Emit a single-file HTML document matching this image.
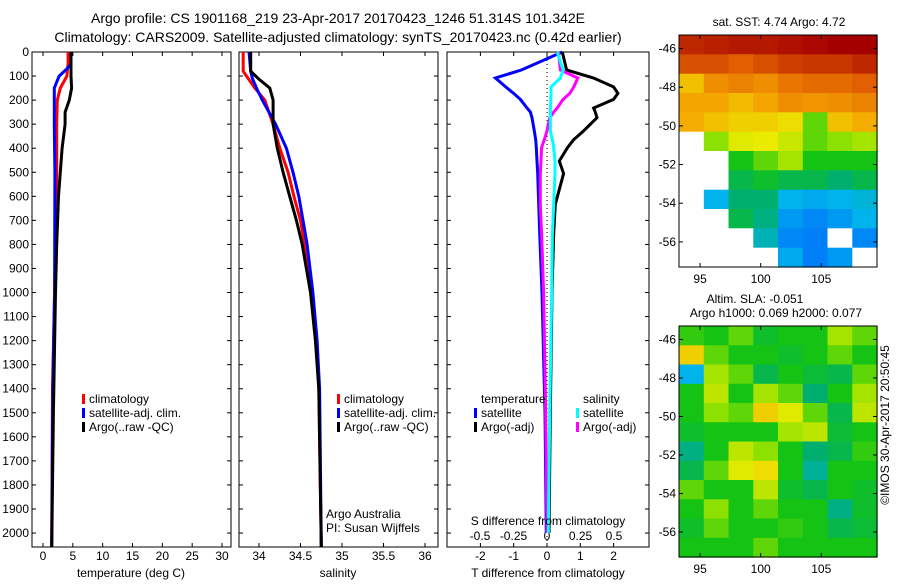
<!DOCTYPE html>
<html><head><meta charset="utf-8"><style>
body{margin:0;background:#fff;width:900px;height:580px;overflow:hidden}
svg text{font-family:"Liberation Sans",sans-serif;fill:#000}
</style></head><body>
<svg id="fig" width="900" height="580" xmlns="http://www.w3.org/2000/svg">
<text x="338" y="23" font-size="14" text-anchor="middle">Argo profile: CS 1901168_219 23-Apr-2017 20170423_1246 51.314S 101.342E</text>
<text x="338" y="42" font-size="14" text-anchor="middle">Climatology: CARS2009. Satellite-adjusted climatology: synTS_20170423.nc (0.42d earlier)</text>
<g id="g"></g>
</svg>
<script>
// ---- profile data (depth in m) ----
const tDepth=[0,50,70,100,150,200,300,500,1000,1400,2060];
const tClim=[4.2,4.2,4.1,4.0,2.9,2.4,2.3,2.3,1.95,1.6,1.45];
const tSat=[4.7,4.7,4.0,2.7,1.9,1.9,1.9,2.0,1.95,1.65,1.45];
const aDepth=[0,100,150,200,250,300,400,500,600,800,1000,1500,2060];
const tArgo=[4.7,4.7,4.8,4.4,3.7,3.7,3.2,2.9,2.6,2.3,2.1,1.75,1.45];
const sDepth=[0,80,110,150,200,300,400,500,600,700,800,1000,1200,1400,2060];
const sClim=[33.81,33.81,33.87,33.95,34.07,34.17,34.25,34.35,34.42,34.5,34.55,34.64,34.69,34.72,34.75];
const sSat=[33.88,33.9,33.92,33.97,34.04,34.2,34.33,34.41,34.48,34.53,34.58,34.65,34.7,34.73,34.75];
const sArgo=[33.9,33.9,33.99,34.13,34.17,34.17,34.22,34.29,34.37,34.45,34.52,34.62,34.68,34.72,34.75];
const dDepth=[0,75,108,145,172,197,233,250,273,328,365,397,453,505,633,755,1000,1500,2000];
const dTSat=[0.46,-0.77,-1.55,-1.24,-1.0,-0.8,-0.6,-0.5,-0.45,-0.38,-0.34,-0.32,-0.3,-0.28,-0.25,-0.22,-0.15,-0.06,-0.02];
const dTArgo=[0.46,0.59,1.4,2.0,2.13,2.0,1.4,1.45,1.5,1.1,0.8,0.62,0.37,0.5,0.25,0.2,0.15,0.1,0.06];
const dSArgo=[0.085,0.1,0.23,0.2,0.17,0.12,0.076,0.05,0.02,0,-0.02,-0.04,-0.045,-0.05,-0.05,-0.04,-0.025,-0.01,0];
const dSSat=[0.076,0.12,0.1,0.03,0.03,0.028,0.025,0.025,0.025,0.025,0.04,0.05,0.06,0.06,0.05,0.04,0.035,0.02,0.01];
// ---- axis ticks ----
const depthTicks=[0,100,200,300,400,500,600,700,800,900,1000,1100,1200,1300,1400,1500,1600,1700,1800,1900,2000];
const tTicks=[0,5,10,15,20,25,30];
const sTicks=[34,34.5,35,35.5,36];
const dTTicks=[-2,-1,0,1,2];
const dSTicks=[-0.5,-0.25,0,0.25,0.5];
// ---- map grids (colour index 0..1, -1 = no data) ----
const sstGrid=[
[0.95,0.96,0.97,0.97,0.98,0.99,1,1],
[0.9,0.9,0.88,0.9,0.92,0.93,0.93,0.95],
[0.72,0.8,0.82,0.8,0.84,0.86,0.86,0.88],
[0.76,0.76,0.73,0.76,0.8,0.79,0.8,0.82],
[0.75,0.72,0.7,0.7,0.68,0.55,0.72,0.75],
[-1,0.58,0.65,0.66,0.63,0.55,0.58,0.6],
[-1,-1,0.5,0.55,0.6,0.5,0.5,0.5],
[-1,-1,0.45,0.48,0.45,0.45,0.42,0.45],
[-1,0.3,0.42,0.42,0.3,0.28,0.3,0.32],
[-1,-1,0.45,0.4,0.25,0.22,0.25,0.3],
[-1,-1,-1,0.35,0.22,0.2,-1,0.22],
[-1,-1,-1,-1,0.28,0.2,0.25,-1]];
const slaGrid=[
[0.52,0.5,0.55,0.48,0.5,0.5,0.6,0.55],
[0.7,0.55,0.5,0.5,0.48,0.5,0.55,0.5],
[0.3,0.6,0.55,0.45,0.5,0.47,0.45,0.55],
[0.5,0.62,0.5,0.6,0.55,0.42,0.5,0.6],
[0.5,0.58,0.55,0.7,0.65,0.55,0.45,0.62],
[0.48,0.5,0.5,0.5,0.6,0.62,0.47,0.5],
[0.4,0.5,0.62,0.58,0.5,0.42,0.45,0.52],
[0.45,0.55,0.65,0.68,0.5,0.38,0.5,0.5],
[0.55,0.5,0.5,0.62,0.48,0.45,0.5,0.48],
[0.5,0.58,0.5,0.55,0.5,0.5,0.4,0.48],
[0.48,0.55,0.5,0.5,0.52,0.5,0.45,0.47],
[0.5,0.5,0.5,0.55,0.5,0.5,0.5,0.5]];
const mapLons=[95,100,105];
const mapLats=[-46,-48,-50,-52,-54,-56];

const NS="http://www.w3.org/2000/svg";
const G=document.getElementById('g');
function el(tag,attrs,parent,txt){const e=document.createElementNS(NS,tag);for(const k in attrs)e.setAttribute(k,attrs[k]);if(txt!==undefined)e.textContent=txt;(parent||G).appendChild(e);return e;}
const TOP=52,BOT=547;
const yD=d=>TOP+(d/2058)*(BOT-TOP);
function lin(d0,d1,r0,r1){return v=>r0+(v-d0)/(d1-d0)*(r1-r0);}
const xT=lin(0,30,43,222);
const xS=lin(34,36,259,425);
const xDT=v=>547+v*33.3;
const xDS=v=>547+v*134;

function frame(name,x0,x1){
  const r=el('rect',{x:x0,y:TOP,width:x1-x0,height:BOT-TOP,fill:'#fff',stroke:'#000','stroke-width':1});
  
  
  depthTicks.forEach(d=>{const y=yD(d);el('line',{x1:x0,x2:x0+4,y1:y,y2:y,stroke:'#000'});el('line',{x1:x1-4,x2:x1,y1:y,y2:y,stroke:'#000'});});
}
function xticks(ticks,f,x0,x1,labels,ly){
  ticks.forEach((t,i)=>{const x=f(t);el('line',{x1:x,x2:x,y1:BOT-4,y2:BOT,stroke:'#000'});el('line',{x1:x,x2:x,y1:TOP,y2:TOP+4,stroke:'#000'});
    const tx=el('text',{x:x,y:ly,'font-size':12,'text-anchor':'middle'},G,labels?labels[i]:String(t));
    
    });
}
function line(name,depths,vals,fx,color,w){
  const pts=depths.map((d,i)=>fx(vals[i]).toFixed(1)+','+yD(d).toFixed(1)).join(' ');
  const p=el('polyline',{points:pts,fill:'none',stroke:color,'stroke-width':w||3});
  
  
}
function legend(x,y,color,label){
  el('rect',{x:x,y:y-9,width:3,height:10,fill:color});
  const t=el('text',{x:x+7,y:y,'font-size':12},G,label);
  
  
}
// panel 1
frame('temperature-panel',32,231);
depthTicks.forEach(d=>{const t=el('text',{x:29,y:yD(d)+4,'font-size':12,'text-anchor':'end'},G,String(d));});
xticks(tTicks,xT,32,231,null,560);
line('temp-climatology-line',tDepth,tClim,xT,'#f00');
line('temp-satellite-line',tDepth,tSat,xT,'#00f');
line('temp-argo-line',aDepth,tArgo,xT,'#000');
legend(82,403,'#f00','climatology');legend(82,417,'#00f','satellite-adj. clim.');legend(82,431,'#000','Argo(..raw -QC)');
el('text',{x:131,y:577,'font-size':12,'text-anchor':'middle',},G,'temperature (deg C)');
// panel 2
frame('salinity-panel',239,438);
xticks(sTicks,xS,239,438,null,560);
line('sal-climatology-line',sDepth,sClim,xS,'#f00');
line('sal-satellite-line',sDepth,sSat,xS,'#00f');
line('sal-argo-line',sDepth,sArgo,xS,'#000');
legend(337,403,'#f00','climatology');legend(337,417,'#00f','satellite-adj. clim.');legend(337,431,'#000','Argo(..raw -QC)');
el('text',{x:326,y:518,'font-size':12,},G,'Argo Australia');
el('text',{x:326,y:532,'font-size':12,},G,'PI: Susan Wijffels');
el('text',{x:338,y:577,'font-size':12,'text-anchor':'middle',},G,'salinity');
// panel 3
frame('difference-panel',447,649);
el('line',{x1:547,x2:547,y1:TOP,y2:BOT,stroke:'#000','stroke-dasharray':'1,3',});
xticks(dTTicks,xDT,447,649,null,560);
dSTicks.forEach(t=>{const tx=el('text',{x:xDS(t),y:540,'font-size':12,'text-anchor':'middle'},G,String(t));});
line('diff-temp-satellite-line',dDepth,dTSat,xDT,'#00f');
line('diff-temp-argo-line',dDepth,dTArgo,xDT,'#000');
line('diff-sal-argo-line',dDepth,dSArgo,xDS,'#f0f');
line('diff-sal-satellite-line',dDepth,dSSat,xDS,'#0ff');
el('text',{x:481,y:403,'font-size':12,},G,'temperature');
el('text',{x:583,y:403,'font-size':12,},G,'salinity');
legend(474,417,'#00f','satellite');legend(474,431,'#000','Argo(-adj)');
legend(576,417,'#0ff','satellite');legend(576,431,'#f0f','Argo(-adj)');
el('text',{x:548,y:525,'font-size':12,'text-anchor':'middle',},G,'S difference from climatology');
el('text',{x:548,y:577,'font-size':12,'text-anchor':'middle',},G,'T difference from climatology');
// maps
const stops=[[0,[0,0,130]],[0.15,[0,100,255]],[0.3,[0,180,235]],[0.42,[0,175,110]],[0.5,[20,195,20]],[0.58,[140,225,0]],[0.66,[235,235,0]],[0.76,[245,165,0]],[0.88,[225,95,0]],[1,[165,0,0]]];
function col(v){if(v<0)return '#fff';for(let i=1;i<stops.length;i++){if(v<=stops[i][0]){const a=stops[i-1],b=stops[i];const f=(v-a[0])/(b[0]-a[0]);const c=a[1].map((x,k)=>Math.round(x+(b[1][k]-x)*f));return 'rgb('+c.join(',')+')';}}return 'rgb(165,0,0)';}
function map(name,grid,x0,y0,w,h){
  const lonX=lin(93.26,109.6,x0,x0+w);
  const latY=lin(-45.3,-57.3,y0,y0+h);
  const rows=grid.length,cols=grid[0].length;
  const g=el('g',{});
  
  
  grid.forEach((row,r)=>row.forEach((v,c)=>{
    const lo0=93.26+c*(16.34/cols),la0=-45.3-r*(12/rows);
    const xa=lonX(lo0),xb=lonX(lo0+16.34/cols),ya=latY(la0),yb=latY(la0-12/rows);
    const cell=el('rect',{x:xa.toFixed(1),y:ya.toFixed(1),width:(xb-xa+0.6).toFixed(1),height:(yb-ya+0.6).toFixed(1),fill:col(v)},g);
    
    
  }));
  el('rect',{x:x0,y:y0,width:w,height:h,fill:'none',stroke:'#000'});
  mapLons.forEach(l=>{const x=lonX(l);el('line',{x1:x,x2:x,y1:y0+h-4,y2:y0+h,stroke:'#000'});el('line',{x1:x,x2:x,y1:y0,y2:y0+4,stroke:'#000'});
    el('text',{x:x,y:y0+h+16,'font-size':12,'text-anchor':'middle'},G,String(l));});
  mapLats.forEach(l=>{const y=latY(l);el('line',{x1:x0,x2:x0+4,y1:y,y2:y,stroke:'#000'});el('line',{x1:x0+w-4,x2:x0+w,y1:y,y2:y,stroke:'#000'});
    el('text',{x:x0-3,y:y+4,'font-size':12,'text-anchor':'end'},G,String(l));});
}
map('sst-map',sstGrid,679,35,198,232);
map('sla-map',slaGrid,679,326,198,231);
el('text',{x:779,y:26,'font-size':12,'text-anchor':'middle',},G,'sat. SST: 4.74  Argo: 4.72');
el('text',{x:755,y:303,'font-size':12,'text-anchor':'middle',},G,'Altim. SLA: -0.051');
el('text',{x:776,y:317,'font-size':12,'text-anchor':'middle',},G,'Argo h1000: 0.069 h2000: 0.077');
el('text',{x:0,y:0,'font-size':12,'text-anchor':'middle',transform:'translate(889,425) rotate(-90)',},G,'©IMOS 30-Apr-2017 20:50:45');
</script>
</body></html>
